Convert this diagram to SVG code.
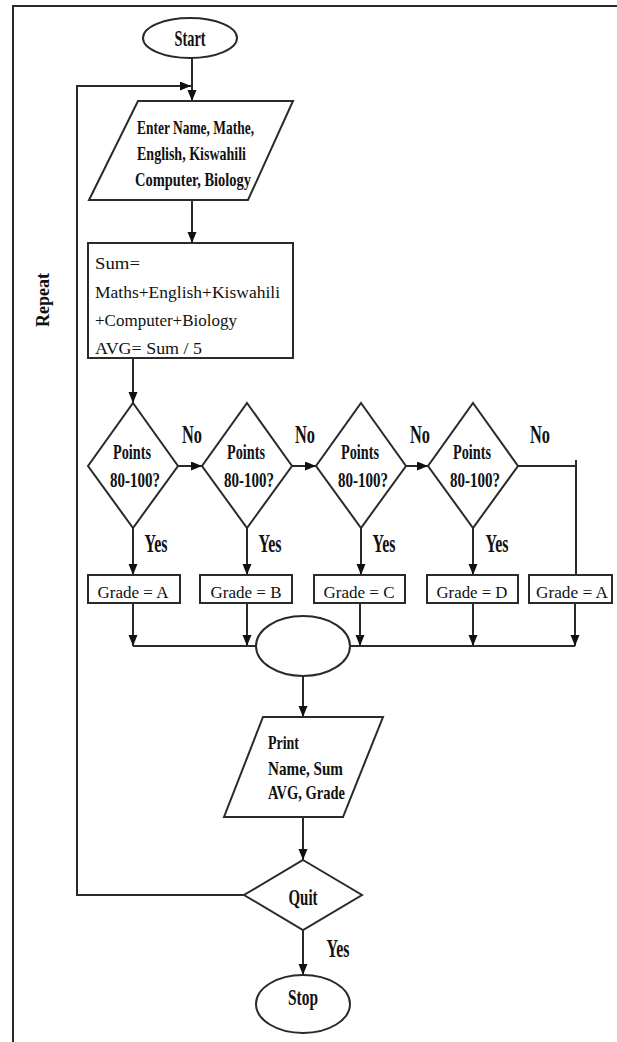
<svg xmlns="http://www.w3.org/2000/svg" width="617" height="1042" viewBox="0 0 617 1042">
<style>
.sh{fill:#fff;stroke:#2a2a2a;stroke-width:2}
.ln{fill:none;stroke:#2a2a2a;stroke-width:2}
.b{font-family:"Liberation Serif",serif;font-weight:bold;fill:#111}
.r{font-family:"Liberation Serif",serif;fill:#111}
.c{text-anchor:middle}
</style>
<defs>
<marker id="ah" markerUnits="userSpaceOnUse" markerWidth="11" markerHeight="10" refX="11" refY="4.5" orient="auto">
<path d="M0,0 L11,4.5 L0,9 z" fill="#111"/>
</marker>
</defs>
<rect width="617" height="1042" fill="#fff"/>
<g id="frame"><path class="ln" d="M617,6 H13 V1042"/></g>
<g id="connectors">
<path class="ln" d="M192,58 V101" marker-end="url(#ah)"/>
<path class="ln" d="M244,895 H77 V86 H191" marker-end="url(#ah)"/>
<path class="ln" d="M192,200 V243" marker-end="url(#ah)"/>
<path class="ln" d="M133,358 V403" marker-end="url(#ah)"/>
<path class="ln" d="M178,466 H202" marker-end="url(#ah)"/>
<path class="ln" d="M292,466 H316" marker-end="url(#ah)"/>
<path class="ln" d="M406,466 H428" marker-end="url(#ah)"/>
<path class="ln" d="M518,466 H576 M576,460 V575"/>
<path class="ln" d="M133,528 V575" marker-end="url(#ah)"/>
<path class="ln" d="M247,528 V575" marker-end="url(#ah)"/>
<path class="ln" d="M361,528 V575" marker-end="url(#ah)"/>
<path class="ln" d="M473,528 V575" marker-end="url(#ah)"/>
<path class="ln" d="M133,603 V646" marker-end="url(#ah)"/>
<path class="ln" d="M247,603 V646" marker-end="url(#ah)"/>
<path class="ln" d="M360,603 V646" marker-end="url(#ah)"/>
<path class="ln" d="M473,603 V646" marker-end="url(#ah)"/>
<path class="ln" d="M575,603 V646" marker-end="url(#ah)"/>
<path class="ln" d="M133,646 H575"/>
<path class="ln" d="M303,676 V717" marker-end="url(#ah)"/>
<path class="ln" d="M303,817 V860" marker-end="url(#ah)"/>
<path class="ln" d="M303,930 V975" marker-end="url(#ah)"/>
<text class="b c" x="192" y="443" font-size="26" textLength="20" lengthAdjust="spacingAndGlyphs">No</text>
<text class="b c" x="305" y="443" font-size="26" textLength="20" lengthAdjust="spacingAndGlyphs">No</text>
<text class="b c" x="420" y="443" font-size="26" textLength="20" lengthAdjust="spacingAndGlyphs">No</text>
<text class="b c" x="540" y="443" font-size="26" textLength="20" lengthAdjust="spacingAndGlyphs">No</text>
<text class="b c" x="156" y="552" font-size="26" textLength="23" lengthAdjust="spacingAndGlyphs">Yes</text>
<text class="b c" x="270" y="552" font-size="26" textLength="23" lengthAdjust="spacingAndGlyphs">Yes</text>
<text class="b c" x="384" y="552" font-size="26" textLength="23" lengthAdjust="spacingAndGlyphs">Yes</text>
<text class="b c" x="497" y="552" font-size="26" textLength="23" lengthAdjust="spacingAndGlyphs">Yes</text>
<text class="b c" x="338" y="957" font-size="26" textLength="23" lengthAdjust="spacingAndGlyphs">Yes</text>
<text class="b c" transform="translate(49,300) rotate(-90)" font-size="18" textLength="54" lengthAdjust="spacingAndGlyphs">Repeat</text>
</g>
<g id="start">
<ellipse class="sh" cx="190" cy="38" rx="47" ry="20"/>
<text class="b c" x="190" y="46" font-size="24" textLength="31" lengthAdjust="spacingAndGlyphs">Start</text>
</g>
<g id="input">
<path class="sh" d="M138,101 H293 L248,200 H89 Z"/>
<text class="b" x="137" y="134" font-size="19" textLength="117" lengthAdjust="spacingAndGlyphs">Enter Name, Mathe,</text>
<text class="b" x="137" y="160" font-size="19" textLength="109" lengthAdjust="spacingAndGlyphs">English, Kiswahili</text>
<text class="b" x="135" y="186" font-size="19" textLength="116" lengthAdjust="spacingAndGlyphs">Computer, Biology</text>
</g>
<g id="compute">
<rect class="sh" x="88" y="243" width="205" height="115"/>
<text class="r" x="95" y="269" font-size="17.5" textLength="45" lengthAdjust="spacingAndGlyphs">Sum=</text>
<text class="r" x="95" y="298" font-size="17.5" textLength="185" lengthAdjust="spacingAndGlyphs">Maths+English+Kiswahili</text>
<text class="r" x="95" y="326" font-size="17.5" textLength="142" lengthAdjust="spacingAndGlyphs">+Computer+Biology</text>
<text class="r" x="95" y="354" font-size="17.5" textLength="107" lengthAdjust="spacingAndGlyphs">AVG= Sum / 5</text>
</g>
<g id="dec1">
<path class="sh" d="M133,403 L178,466 L133,528 L88,466 Z"/>
<text class="b c" x="132" y="459" font-size="22" textLength="38" lengthAdjust="spacingAndGlyphs">Points</text>
<text class="b c" x="135" y="487" font-size="22" textLength="50" lengthAdjust="spacingAndGlyphs">80-100?</text>
</g>
<g id="dec2">
<path class="sh" d="M247,403 L292,466 L247,528 L202,466 Z"/>
<text class="b c" x="246" y="459" font-size="22" textLength="38" lengthAdjust="spacingAndGlyphs">Points</text>
<text class="b c" x="249" y="487" font-size="22" textLength="50" lengthAdjust="spacingAndGlyphs">80-100?</text>
</g>
<g id="dec3">
<path class="sh" d="M361,403 L406,466 L361,528 L316,466 Z"/>
<text class="b c" x="360" y="459" font-size="22" textLength="38" lengthAdjust="spacingAndGlyphs">Points</text>
<text class="b c" x="363" y="487" font-size="22" textLength="50" lengthAdjust="spacingAndGlyphs">80-100?</text>
</g>
<g id="dec4">
<path class="sh" d="M473,403 L518,466 L473,528 L428,466 Z"/>
<text class="b c" x="472" y="459" font-size="22" textLength="38" lengthAdjust="spacingAndGlyphs">Points</text>
<text class="b c" x="475" y="487" font-size="22" textLength="50" lengthAdjust="spacingAndGlyphs">80-100?</text>
</g>
<g id="gradeA">
<rect class="sh" x="88" y="575" width="92" height="28"/>
<text class="r c" x="133" y="598" font-size="17" textLength="71" lengthAdjust="spacingAndGlyphs">Grade = A</text>
</g>
<g id="gradeB">
<rect class="sh" x="200" y="575" width="92" height="28"/>
<text class="r c" x="246" y="598" font-size="17" textLength="71" lengthAdjust="spacingAndGlyphs">Grade = B</text>
</g>
<g id="gradeC">
<rect class="sh" x="314" y="575" width="91" height="28"/>
<text class="r c" x="359" y="598" font-size="17" textLength="71" lengthAdjust="spacingAndGlyphs">Grade = C</text>
</g>
<g id="gradeD">
<rect class="sh" x="427" y="575" width="91" height="28"/>
<text class="r c" x="472" y="598" font-size="17" textLength="71" lengthAdjust="spacingAndGlyphs">Grade = D</text>
</g>
<g id="gradeA2">
<rect class="sh" x="529" y="575" width="83" height="28"/>
<text class="r c" x="572" y="598" font-size="17" textLength="72" lengthAdjust="spacingAndGlyphs">Grade = A</text>
</g>
<g id="merge">
<ellipse class="sh" cx="303" cy="646" rx="47" ry="30"/>
</g>
<g id="print">
<path class="sh" d="M263,717 H383 L343,817 H224 Z"/>
<text class="b" x="268" y="749" font-size="19" textLength="31" lengthAdjust="spacingAndGlyphs">Print</text>
<text class="b" x="268" y="775" font-size="19" textLength="75" lengthAdjust="spacingAndGlyphs">Name, Sum</text>
<text class="b" x="268" y="799" font-size="19" textLength="77" lengthAdjust="spacingAndGlyphs">AVG, Grade</text>
</g>
<g id="quit">
<path class="sh" d="M303,860 L362,895 L303,930 L244,895 Z"/>
<text class="b c" x="303" y="905" font-size="24" textLength="29" lengthAdjust="spacingAndGlyphs">Quit</text>
</g>
<g id="stop">
<ellipse class="sh" cx="303" cy="1004" rx="47" ry="29"/>
<text class="b c" x="303" y="1005" font-size="24" textLength="30" lengthAdjust="spacingAndGlyphs">Stop</text>
</g>
</svg>
